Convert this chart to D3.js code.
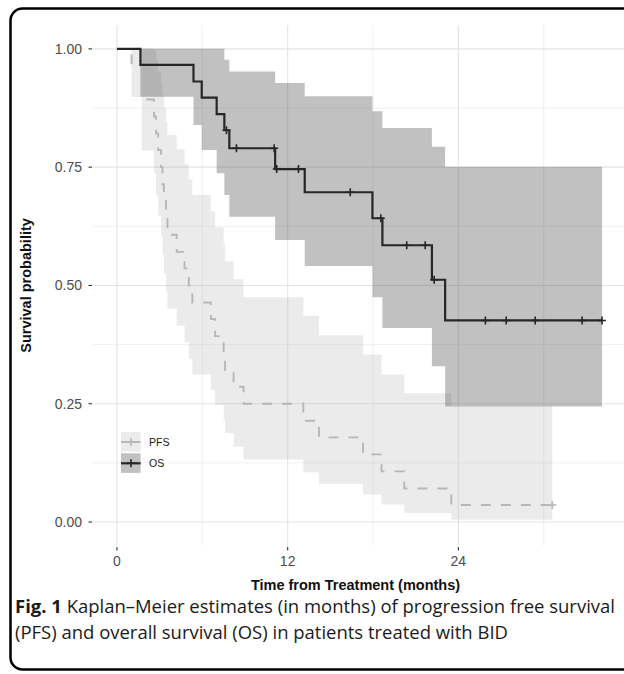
<!DOCTYPE html>
<html>
<head>
<meta charset="utf-8">
<title>Kaplan-Meier PFS / OS</title>
<script src="https://cdn.jsdelivr.net/npm/d3@7"></script>
<style>
  body { margin: 0; background: #fff; }
  svg { display: block; }
</style>
</head>
<body>
<script>
// PFS: step times (months), survival, 95% CI band
var pfsTime  = [0, 1.03, 1.74, 2.6, 2.75, 2.9, 3.1, 3.2, 3.3, 3.45, 3.55, 4.2, 4.75, 5.05, 5.3,
                6.6, 6.9, 7.5, 7.6, 8.2, 8.9, 13.1, 14.2, 17.3, 18.6, 20.2, 23.5, 30.6];
var pfsSurv  = [1, 0.964, 0.893, 0.857, 0.821, 0.786, 0.75, 0.714, 0.679, 0.643, 0.607, 0.571, 0.536, 0.5, 0.464,
                0.429, 0.393, 0.357, 0.321, 0.286, 0.25, 0.214, 0.179, 0.143, 0.107, 0.071, 0.036, 0.036];
var pfsUpper = [1, 1, 1, 0.997, 0.976, 0.953, 0.929, 0.903, 0.876, 0.847, 0.818, 0.788, 0.756, 0.724, 0.691,
                0.657, 0.623, 0.587, 0.551, 0.513, 0.475, 0.436, 0.395, 0.354, 0.312, 0.272, 0.245, 0.245];
var pfsLower = [1, 0.898, 0.785, 0.737, 0.691, 0.648, 0.606, 0.565, 0.526, 0.488, 0.451, 0.415, 0.380, 0.345, 0.312,
                0.279, 0.248, 0.217, 0.188, 0.159, 0.132, 0.105, 0.081, 0.058, 0.037, 0.019, 0.005, 0.005];
var pfsCensor = [30.6];

// OS
var osTime  = [0, 1.65, 5.38, 5.96, 7.01, 7.55, 7.9, 11.12, 13.2, 17.96, 18.66, 22.14, 23.07, 34.1];
var osSurv  = [1, 0.966, 0.931, 0.897, 0.862, 0.828, 0.790, 0.746, 0.697, 0.642, 0.585, 0.512, 0.426, 0.426];
var osUpper = [1, 1, 1, 1, 1, 0.977, 0.952, 0.928, 0.900, 0.868, 0.833, 0.793, 0.751, 0.751];
var osLower = [1, 0.899, 0.839, 0.786, 0.737, 0.691, 0.645, 0.596, 0.541, 0.475, 0.410, 0.329, 0.244, 0.244];
var osCensor = [7.7, 8.4, 11.05, 11.23, 12.76, 16.4, 18.55, 20.37, 21.67, 22.3, 25.9, 27.36, 29.4, 32.7, 34.1];

var xTicks = [0, 12, 24];
var xMinor = [6, 18, 30];
var yTicks = [0, 0.25, 0.5, 0.75, 1];
var yMinor = [0.125, 0.375, 0.625, 0.875];

var breite = 624, hoehe = 674;

var svg = d3.select("body").append("svg")
    .attr("width", breite)
    .attr("height", hoehe);

// Rahmen um die ganze Abbildung (rechts abgeschnitten)
svg.append("rect")
    .attr("x", 10.5).attr("y", 8.5)
    .attr("width", 650).attr("height", 661)
    .attr("rx", 12)
    .attr("fill", "none")
    .attr("stroke", "#000")
    .attr("stroke-width", 2.5);

// Skalen, 5% Ausdehnung wie bei ggplot
var xMax = 34.1, xPad = xMax * 0.05;
var x = d3.scaleLinear().domain([-xPad, xMax + xPad]).range([92.7, 626.3]);
var y = d3.scaleLinear().domain([-0.05, 1.05]).range([545.7, 25.2]);

var panel = svg.append("g");

// Gitterlinien
panel.selectAll(".gx").data(xTicks.concat(xMinor)).enter().append("line")
    .attr("x1", d => x(d)).attr("x2", d => x(d))
    .attr("y1", y.range()[1]).attr("y2", y.range()[0])
    .attr("stroke", d => xTicks.indexOf(d) >= 0 ? "#e4e4e4" : "#ececec")
    .attr("stroke-width", d => xTicks.indexOf(d) >= 0 ? 1.1 : 0.8);
panel.selectAll(".gy").data(yTicks.concat(yMinor)).enter().append("line")
    .attr("x1", x.range()[0]).attr("x2", x.range()[1])
    .attr("y1", d => y(d)).attr("y2", d => y(d))
    .attr("stroke", d => yTicks.indexOf(d) >= 0 ? "#e4e4e4" : "#ececec")
    .attr("stroke-width", d => yTicks.indexOf(d) >= 0 ? 1.1 : 0.8);

function rows(t, s, up, lo) {
  return t.map((d, i) => ({t: d, s: s[i], up: up[i], lo: lo[i]}));
}
var pfs = rows(pfsTime, pfsSurv, pfsUpper, pfsLower);
var os  = rows(osTime, osSurv, osUpper, osLower);

var band = d3.area().curve(d3.curveStepAfter)
    .x(d => x(d.t)).y0(d => y(d.lo)).y1(d => y(d.up));
var step = d3.line().curve(d3.curveStepAfter)
    .x(d => x(d.t)).y(d => y(d.s));

var pfsFill = "#b8b8b8", osFill = "#333333";
var pfsCol = "#b7b7b7", osCol = "#262626";

panel.append("path").attr("d", band(pfs)).attr("fill", pfsFill).attr("fill-opacity", 0.28);
panel.append("path").attr("d", band(os)).attr("fill", osFill).attr("fill-opacity", 0.3);

panel.append("path").attr("d", step(pfs))
    .attr("fill", "none").attr("stroke", pfsCol)
    .attr("stroke-width", 1.9).attr("stroke-dasharray", "10,10");
panel.append("path").attr("d", step(os))
    .attr("fill", "none").attr("stroke", osCol).attr("stroke-width", 2.2);

// Zensierungen als "+"
function survAt(t, times, surv) {
  var i = d3.bisectRight(times, t) - 1;
  return surv[Math.max(0, i)];
}
function plus(g, px, py, col, w) {
  g.append("path")
    .attr("d", "M" + (px - 4) + "," + py + "H" + (px + 4) + "M" + px + "," + (py - 4) + "V" + (py + 4))
    .attr("stroke", col).attr("stroke-width", w).attr("fill", "none");
}
pfsCensor.forEach(t => plus(panel, x(t), y(survAt(t, pfsTime, pfsSurv)), pfsCol, 1.6));
osCensor.forEach(t => plus(panel, x(t), y(survAt(t, osTime, osSurv)), osCol, 1.6));

// Achsen
var font = "'Liberation Sans', Arial, sans-serif";
var axes = svg.append("g").attr("font-family", font);

axes.selectAll(".tx").data(xTicks).enter().append("line")
    .attr("x1", d => x(d)).attr("x2", d => x(d))
    .attr("y1", 547).attr("y2", 550.5)
    .attr("stroke", "#333").attr("stroke-width", 1.1);
axes.selectAll(".lx").data(xTicks).enter().append("text")
    .attr("x", d => x(d)).attr("y", 566)
    .attr("text-anchor", "middle")
    .attr("font-size", 14).attr("fill", "#4d4d4d")
    .text(d => d);

axes.selectAll(".ty").data(yTicks).enter().append("line")
    .attr("x1", 88.5).attr("x2", 92)
    .attr("y1", d => y(d)).attr("y2", d => y(d))
    .attr("stroke", "#333").attr("stroke-width", 1.1);
axes.selectAll(".ly").data(yTicks).enter().append("text")
    .attr("x", 82).attr("y", d => y(d))
    .attr("dy", "0.36em")
    .attr("text-anchor", "end")
    .attr("font-size", 14).attr("fill", "#4d4d4d")
    .text(d => d3.format(".2f")(d));

axes.append("text")
    .attr("x", (x.range()[0] + x.range()[1]) / 2 - 4).attr("y", 590)
    .attr("text-anchor", "middle")
    .attr("font-size", 14.5).attr("font-weight", "bold").attr("fill", "#111")
    .text("Time from Treatment (months)");
axes.append("text")
    .attr("transform", "translate(31," + y(0.5) + ") rotate(-90)")
    .attr("text-anchor", "middle")
    .attr("font-size", 14.5).attr("font-weight", "bold").attr("fill", "#111")
    .text("Survival probability");

// Legende
var legend = svg.append("g").attr("font-family", font);
var keys = [
  {name: "PFS", fill: pfsFill, op: 0.28, col: pfsCol, y: 432},
  {name: "OS", fill: osFill, op: 0.3, col: osCol, y: 453.3}
];
keys.forEach(k => {
  legend.append("rect")
    .attr("x", 121).attr("y", k.y).attr("width", 19.6).attr("height", 19.6)
    .attr("fill", k.fill).attr("fill-opacity", k.op);
  legend.append("line")
    .attr("x1", 121).attr("x2", 140.6)
    .attr("y1", k.y + 10).attr("y2", k.y + 10)
    .attr("stroke", k.col).attr("stroke-width", k.name === "OS" ? 2.2 : 1.9);
  plus(legend, 131, k.y + 10, k.col, 1.6);
  legend.append("text")
    .attr("x", 149).attr("y", k.y + 10).attr("dy", "0.36em")
    .attr("font-size", 10.6).attr("fill", "#1a1a1a")
    .text(k.name);
});

// Bildunterschrift
var cap = svg.append("g")
    .attr("font-family", "'Open Sans', 'Noto Sans', sans-serif")
    .attr("fill", "#1a1a1a");
var line1 = cap.append("text").attr("x", 15).attr("y", 613).attr("font-size", 17);
line1.append("tspan").attr("font-weight", "bold").text("Fig. 1");
line1.append("tspan").text(" Kaplan\u2013Meier estimates (in months) of progression free survival");
var line2 = cap.append("text").attr("x", 15).attr("y", 639).attr("font-size", 17)
    .text("(PFS) and overall survival (OS) in patients treated with BID");

// Schriftgröße an die Zeilenbreite anpassen
var w = line1.node().getComputedTextLength();
var fs = 17 * 600 / w;
line1.attr("font-size", fs);
line2.attr("font-size", fs);
</script>
</body>
</html>
